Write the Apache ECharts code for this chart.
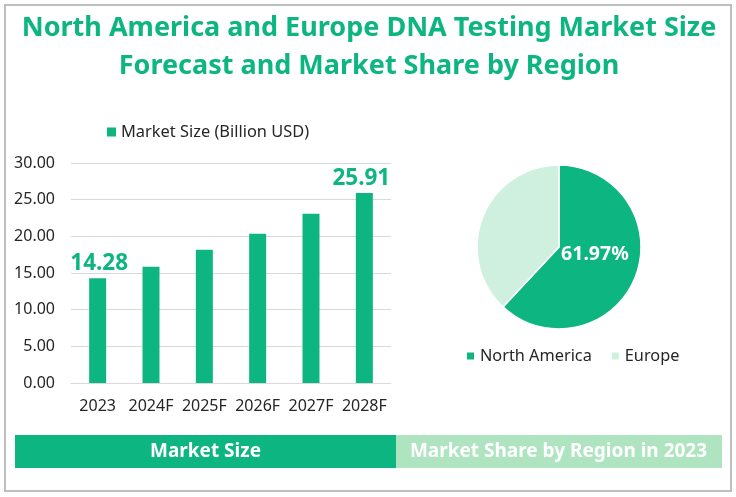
<!DOCTYPE html>
<html><head><meta charset="utf-8">
<style>html,body{margin:0;padding:0;background:#fff}#c{width:736px;height:497px}</style>
<script src="https://cdn.jsdelivr.net/npm/echarts@6/dist/echarts.min.js"></script>
</head><body><div id="c"></div>
<script>
const titleLines = "North America and Europe DNA Testing Market Size\nForecast and Market Share by Region";
const years = ["2023","2024F","2025F","2026F","2027F","2028F"];
const marketSize = [14.28,15.86,18.18,20.36,23.09,25.91];
const labeledYears = ["2023","2028F"];
const regions = ["North America","Europe"];
const regionShare = [61.97,38.03];
const yTicks = {min:0,max:30,interval:5};
const barName = "Market Size (Billion USD)";
const bannerLeft = "Market Size";
const bannerRight = "Market Share by Region in 2023";
const GREEN="#0DB580", PALE="#CFF0DF", BANNER2="#AFE4C1", FONT='"Noto Sans","Open Sans",sans-serif', TXT="#262626";
const chart = echarts.init(document.getElementById('c'),null,{renderer:'canvas'});
chart.setOption({
  animation:false,
  backgroundColor:'#fff',
  textStyle:{fontFamily:FONT},
  title:{text:titleLines,left:364,top:4,textAlign:'center',
    textStyle:{fontFamily:FONT,fontSize:27,fontWeight:'bold',color:GREEN,lineHeight:38.5,align:'center'}},
  legend:[
    {data:[barName],left:102,top:119,itemWidth:9,itemHeight:9,itemGap:5,icon:'rect',
     textStyle:{fontFamily:FONT,fontSize:16.4,color:TXT}},
    {data:regions,left:460,top:343,itemWidth:9,itemHeight:9,itemGap:18,icon:'rect',
     textStyle:{fontFamily:FONT,fontSize:16.3,color:TXT}}
  ],
  grid:{left:71,right:345,top:163,height:220,containLabel:false},
  xAxis:{type:'category',data:years,axisTick:{show:false},
    axisLine:{lineStyle:{color:'#D9D9D9',width:1}},
    axisLabel:{fontSize:16,color:TXT,margin:15,interval:0,fontFamily:FONT}},
  yAxis:{type:'value',...yTicks,axisLine:{show:false},axisTick:{show:false},
    splitLine:{lineStyle:{color:'#D9D9D9',width:1}},
    axisLabel:{fontSize:16,color:TXT,margin:16,fontFamily:FONT,formatter:v=>v.toFixed(2)}},
  series:[
    {type:'bar',name:barName,barWidth:17,itemStyle:{color:GREEN},
     data:marketSize.map((v,i)=>({value:v,
       label:{show:labeledYears.includes(years[i]),position:'top',distance:3,offset:[i===0?1.5:-3,0],
         formatter:p=>p.value.toFixed(2),fontSize:22.5,fontWeight:'bold',color:GREEN,fontFamily:FONT}}))},
    {type:'pie',center:[559,247],radius:[0,82],startAngle:90,clockwise:true,
     itemStyle:{borderColor:'#fff',borderWidth:1.5},
     emphasis:{disabled:true},labelLine:{show:false},
     data:regions.map((r,i)=>({name:r,value:regionShare[i],
       itemStyle:{color:i===0?GREEN:PALE},
       label:i===0?{show:true,position:'inside',offset:[-5,-9],formatter:()=>regionShare[0].toFixed(2)+'%',
         fontSize:19.5,fontWeight:'bold',color:'#fff',fontFamily:FONT}:{show:false}}))}
  ],
  graphic:[
    {type:'rect',silent:true,shape:{x:5,y:5,width:726,height:486},style:{fill:'none',stroke:'#BFBFBF',lineWidth:2}},
    {type:'rect',silent:true,shape:{x:15,y:435,width:381,height:33},style:{fill:GREEN}},
    {type:'rect',silent:true,shape:{x:396,y:435,width:326,height:33},style:{fill:BANNER2}},
    {type:'text',silent:true,x:205.5,y:451.5,style:{text:bannerLeft,align:'center',verticalAlign:'middle',fill:'#fff',font:'bold 19px '+FONT}},
    {type:'text',silent:true,x:558.5,y:451.5,style:{text:bannerRight,align:'center',verticalAlign:'middle',fill:'#fff',font:'bold 19px '+FONT}}
  ]
});
</script></body></html>
